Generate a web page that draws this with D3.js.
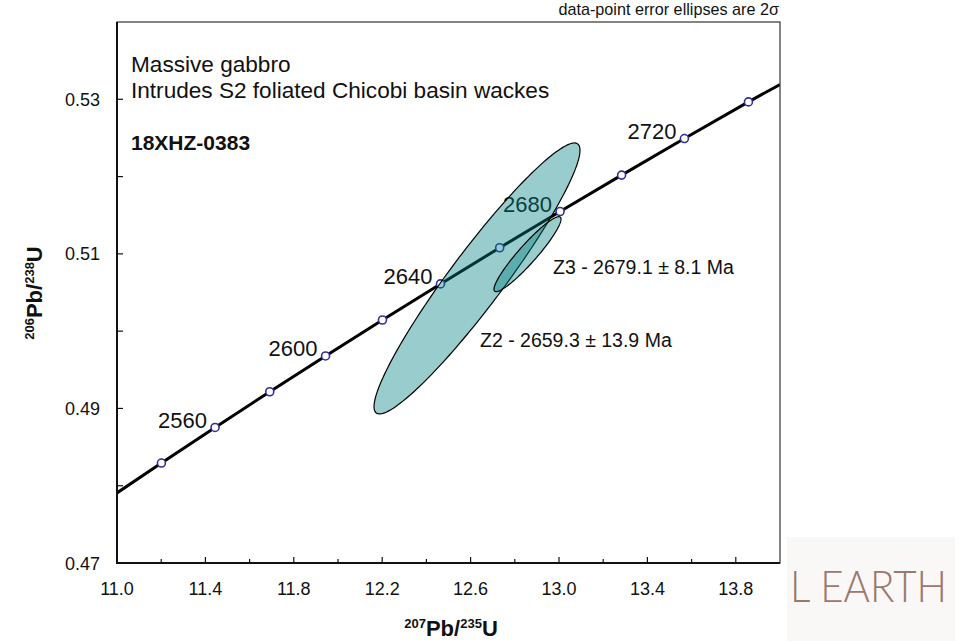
<!DOCTYPE html>
<html>
<head>
<meta charset="utf-8">
<script src="https://cdn.jsdelivr.net/npm/d3@7/dist/d3.min.js"></script>
<style>
  html, body { margin: 0; padding: 0; background: #fff; }
  svg text { font-family: "Liberation Sans", Arial, sans-serif; fill: #111; }
</style>
</head>
<body>
<svg id="chart" width="960" height="641"></svg>
<script>
// Concordia markers every 20 Ma (207Pb/235U, 206Pb/238U)
const concordiaAges = [2540, 2560, 2580, 2600, 2620, 2640, 2660, 2680, 2700, 2720, 2740];
const concordiaX = [11.2010, 11.4437, 11.6912, 11.9437, 12.2012, 12.4638, 12.7316, 13.0048, 13.2833, 13.5675, 13.8572];
const concordiaY = [0.48293, 0.48754, 0.49216, 0.49679, 0.50144, 0.50611, 0.51079, 0.51548, 0.52019, 0.52492, 0.52966];
// Where the concordia curve meets the left and right frame
const curveEndsX = [11.0, 14.0];
const curveEndsY = [0.47907, 0.53192];
const labelledAges = [2560, 2600, 2640, 2680, 2720];

// Zircon analyses: centre, 2-sigma errors and error correlation
const grains = ["Z2", "Z3"];
const grainX = [12.629, 12.8575];
const grainY = [0.50682, 0.50996];
const grainErrX = [0.466, 0.1516];
const grainErrY = [0.01753, 0.00485];
const grainRho = [0.946, 0.935];
const grainLabels = ["Z2 - 2659.3 \u00B1 13.9 Ma", "Z3 - 2679.1 \u00B1 8.1 Ma"];

// Axis ticks
const xTicks = [11.0, 11.2, 11.4, 11.6, 11.8, 12.0, 12.2, 12.4, 12.6, 12.8, 13.0, 13.2, 13.4, 13.6, 13.8];
const xTickLabels = ["11.0", "11.4", "11.8", "12.2", "12.6", "13.0", "13.4", "13.8"];
const yTicks = [0.47, 0.48, 0.49, 0.50, 0.51, 0.52, 0.53];
const yTickLabels = ["0.47", "0.49", "0.51", "0.53"];

const svg = d3.select("#chart");
const pL = 117, pR = 780, pT = 22, pB = 563;

const x = d3.scaleLinear().domain([11.0, 14.0]).range([pL, pR]);
const y = d3.scaleLinear().domain([0.47, 0.54]).range([pB, pT]);

// Watermark panel (bottom right)
svg.append("rect").attr("x", 787).attr("y", 537).attr("width", 168).attr("height", 104)
  .attr("fill", "#f9f8f7");
svg.append("text").attr("x", 790).attr("y", 602)
  .attr("textLength", 157).attr("lengthAdjust", "spacingAndGlyphs")
  .style("font-family", "Lato, 'Open Sans', sans-serif").style("font-weight", 300)
  .style("font-size", "44px").style("fill", "#9c776d")
  .text("L EARTH");

const plot = svg.append("g");
plot.append("clipPath").attr("id", "clip").append("rect")
  .attr("x", pL).attr("y", pT).attr("width", pR - pL).attr("height", pB - pT);

// Concordia curve
const curvePts = [[curveEndsX[0], curveEndsY[0]]]
  .concat(concordiaX.map((v, i) => [v, concordiaY[i]]))
  .concat([[curveEndsX[1], curveEndsY[1]]]);
plot.append("path")
  .attr("clip-path", "url(#clip)")
  .attr("d", d3.line().x(d => x(d[0])).y(d => y(d[1]))(curvePts))
  .attr("fill", "none").attr("stroke", "#000").attr("stroke-width", 3);

// Age markers
plot.selectAll("circle.age").data(concordiaAges).join("circle")
  .attr("class", "age")
  .attr("cx", (d, i) => x(concordiaX[i]))
  .attr("cy", (d, i) => y(concordiaY[i]))
  .attr("r", 4)
  .attr("fill", "#fff").attr("stroke", "#2f2f9a").attr("stroke-width", 1.6);

// Age labels
plot.selectAll("text.age").data(labelledAges).join("text")
  .attr("class", "age")
  .attr("x", d => x(concordiaX[concordiaAges.indexOf(d)]) - 8)
  .attr("y", d => y(concordiaY[concordiaAges.indexOf(d)]) + 0.5)
  .attr("text-anchor", "end")
  .style("font-size", "22px")
  .text(d => d);

// Error ellipses
function ellipsePoints(i) {
  const pts = [];
  const s = Math.sqrt(1 - grainRho[i] * grainRho[i]);
  for (let k = 0; k <= 180; k++) {
    const t = (k / 180) * 2 * Math.PI;
    const ex = grainX[i] + grainErrX[i] * Math.cos(t);
    const ey = grainY[i] + grainErrY[i] * (grainRho[i] * Math.cos(t) + s * Math.sin(t));
    pts.push([x(ex), y(ey)]);
  }
  return pts;
}
plot.selectAll("path.ellipse").data(grains).join("path")
  .attr("class", "ellipse")
  .attr("d", (d, i) => d3.line()(ellipsePoints(i)) + "Z")
  .attr("fill", "rgb(0,128,128)").attr("fill-opacity", 0.4)
  .attr("stroke", "#000").attr("stroke-width", 1.2);

// Analysis labels
const labelPos = [[480, 347], [553, 274]];
plot.selectAll("text.grain").data(grains).join("text")
  .attr("class", "grain")
  .attr("x", (d, i) => labelPos[i][0])
  .attr("y", (d, i) => labelPos[i][1])
  .style("font-size", "19.5px")
  .text((d, i) => grainLabels[i]);

// Frame
svg.append("rect").attr("x", pL).attr("y", pT)
  .attr("width", pR - pL).attr("height", pB - pT)
  .attr("fill", "none").attr("stroke", "#333").attr("stroke-width", 1.2);
svg.append("path")
  .attr("d", `M${pL},${pT}V${pB}H${pR}`)
  .attr("fill", "none").attr("stroke", "#111").attr("stroke-width", 2);

// X axis (ticks point inward)
svg.append("g").selectAll("line").data(xTicks).join("line")
  .attr("x1", d => x(d)).attr("x2", d => x(d))
  .attr("y1", pB).attr("y2", d => xTickLabels.includes(d.toFixed(1)) ? pB - 6 : pB - 4)
  .attr("stroke", "#111").attr("stroke-width", 1.2);
svg.append("g").selectAll("text").data(xTickLabels).join("text")
  .attr("x", d => x(+d)).attr("y", 595)
  .attr("text-anchor", "middle").style("font-size", "18px")
  .text(d => d);

// Y axis (ticks point inward)
svg.append("g").selectAll("line").data(yTicks).join("line")
  .attr("x1", pL).attr("x2", pL + 6)
  .attr("y1", d => y(d)).attr("y2", d => y(d))
  .attr("stroke", "#111").attr("stroke-width", 1.2);
svg.append("g").selectAll("text").data(yTickLabels).join("text")
  .attr("x", 100).attr("y", d => y(+d) + 6.5)
  .attr("text-anchor", "end").style("font-size", "18px")
  .text(d => d);

// Axis titles
function isotopeTitle(sel, massA, elA, massB, elB) {
  sel.append("tspan").style("font-size", "13px").attr("dy", -8).text(massA);
  sel.append("tspan").style("font-size", "22px").attr("dy", 8).text(elA + "/");
  sel.append("tspan").style("font-size", "13px").attr("dy", -8).text(massB);
  sel.append("tspan").style("font-size", "22px").attr("dy", 8).text(elB);
}
const xt = svg.append("text").attr("x", 451).attr("y", 636)
  .attr("text-anchor", "middle").style("font-weight", "bold");
isotopeTitle(xt, "207", "Pb", "235", "U");
const yt = svg.append("text").attr("transform", "translate(42,293) rotate(-90)")
  .attr("text-anchor", "middle").style("font-weight", "bold");
isotopeTitle(yt, "206", "Pb", "238", "U");

// Annotations
svg.append("text").attr("x", 131).attr("y", 72).style("font-size", "22.6px").text("Massive gabbro");
svg.append("text").attr("x", 131).attr("y", 98).style("font-size", "22.6px").text("Intrudes S2 foliated Chicobi basin wackes");
svg.append("text").attr("x", 131).attr("y", 150).style("font-size", "21px").style("font-weight", "bold").text("18XHZ-0383");
svg.append("text").attr("x", 779).attr("y", 15).attr("text-anchor", "end")
  .style("font-size", "16.2px").text("data-point error ellipses are 2\u03C3");
</script>
</body>
</html>
